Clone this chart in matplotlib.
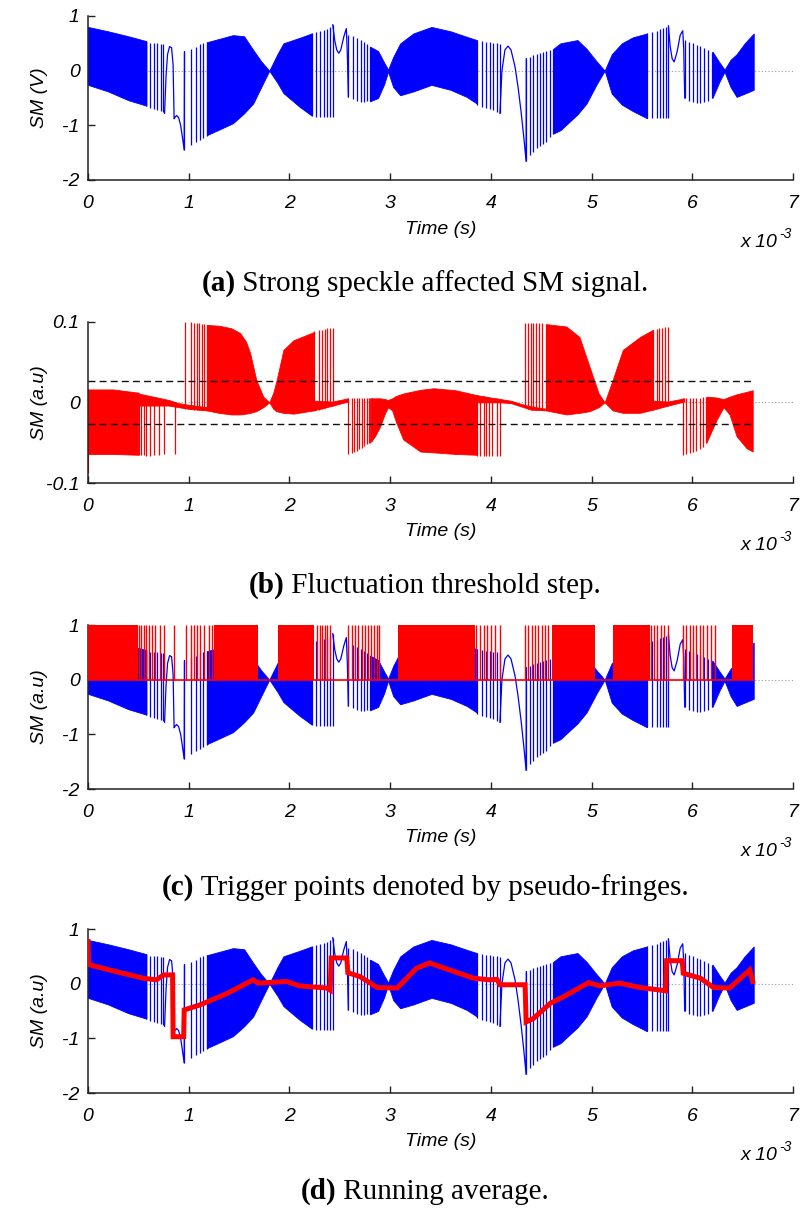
import matplotlib
matplotlib.use('Agg')
import matplotlib.pyplot as plt

plt.rcParams['axes.unicode_minus'] = False
plt.rcParams['font.family'] = ['Liberation Sans', 'DejaVu Sans']

# ================= DATA (time in ms, i.e. x 10^-3 s) =================
time_ticks = [0, 1, 2, 3, 4, 5, 6, 7]
time_ticklabels = ['0', '1', '2', '3', '4', '5', '6', '7']

# ---- SM signal (panels a, c, d): dense-fringe envelopes (None separates segments)
sm_env_t  = [0.0, 0.2, 0.4, 0.58, None,
             1.18, 1.3, 1.44, 1.55, 1.64, 1.72, 1.80, None,
             1.80, 1.88, 1.94, 2.10, 2.22, None,
             2.80, 2.88, 2.94, 2.98, None,
             2.98, 3.03, 3.10, 3.23, 3.41, 3.60, 3.76, 3.86, None,
             4.62, 4.69, 4.86, 4.95, 5.05, 5.13, None,
             5.13, 5.20, 5.30, 5.41, 5.55, None,
             6.20, 6.27, 6.32, None,
             6.32, 6.38, 6.44, 6.52, 6.61]
sm_env_hi = [0.80, 0.72, 0.63, 0.54, None,
             0.52, 0.58, 0.65, 0.63, 0.38, 0.17, 0.0, None,
             0.0, 0.30, 0.50, 0.60, 0.68, None,
             0.44, 0.36, 0.15, 0.02, None,
             0.02, 0.25, 0.50, 0.68, 0.80, 0.72, 0.62, 0.56, None,
             0.40, 0.50, 0.56, 0.40, 0.17, 0.0, None,
             0.0, 0.30, 0.50, 0.61, 0.68, None,
             0.35, 0.15, 0.02, None,
             0.02, 0.20, 0.30, 0.50, 0.68]
sm_env_lo = [-0.26, -0.38, -0.54, -0.64, None,
             -1.18, -1.08, -0.96, -0.78, -0.60, -0.30, 0.0, None,
             0.0, -0.22, -0.41, -0.66, -0.82, None,
             -0.56, -0.50, -0.25, -0.02, None,
             -0.02, -0.30, -0.45, -0.38, -0.26, -0.35, -0.48, -0.60, None,
             -1.15, -1.09, -0.80, -0.60, -0.25, 0.0, None,
             0.0, -0.42, -0.62, -0.74, -0.87, None,
             -0.50, -0.20, -0.02, None,
             -0.02, -0.30, -0.48, -0.42, -0.35]

# isolated fringes (sparse regions)
sm_spike_t  = [0.58, 0.62, 0.66, 0.69, 0.72, 0.74,
               0.958, 1.02, 1.07, 1.11, 1.145, 1.18,
               2.22, 2.26, 2.30, 2.34, 2.37, 2.40, 2.43,
               2.585, 2.63, 2.67, 2.71, 2.74, 2.77, 2.80,
               3.86, 3.91, 3.95, 3.99, 4.02, 4.06, 4.09,
               4.352, 4.39, 4.42, 4.46, 4.49, 4.52, 4.55, 4.59, 4.62,
               5.55, 5.60, 5.65, 5.68, 5.71, 5.74, 5.763,
               5.925, 5.97, 6.01, 6.05, 6.08, 6.12, 6.16, 6.20]
sm_spike_hi = [0.52, 0.51, 0.50, 0.50, 0.49, 0.48,
               0.35, 0.39, 0.44, 0.48, 0.50, 0.52,
               0.68, 0.70, 0.72, 0.74, 0.77, 0.80, 0.84,
               0.65, 0.63, 0.60, 0.56, 0.52, 0.48, 0.44,
               0.56, 0.54, 0.53, 0.52, 0.51, 0.50, 0.48,
               0.22, 0.25, 0.28, 0.30, 0.32, 0.34, 0.36, 0.38, 0.40,
               0.68, 0.70, 0.73, 0.76, 0.78, 0.80, 0.82,
               0.56, 0.53, 0.50, 0.47, 0.45, 0.42, 0.38, 0.35]
sm_spike_lo = [-0.65, -0.68, -0.70, -0.72, -0.74, -0.76,
               -1.45, -1.36, -1.30, -1.27, -1.24, -1.20,
               -0.83, -0.84, -0.85, -0.85, -0.85, -0.85, -0.85,
               -0.48, -0.52, -0.55, -0.58, -0.58, -0.56, -0.55,
               -0.62, -0.66, -0.68, -0.70, -0.72, -0.75, -0.78,
               -1.66, -1.54, -1.48, -1.42, -1.38, -1.34, -1.30, -1.22, -1.15,
               -0.87, -0.87, -0.87, -0.87, -0.87, -0.87, -0.87,
               -0.50, -0.55, -0.58, -0.60, -0.60, -0.58, -0.55, -0.50]

# slow (sub-fringe) excursions
sm_slow_t = [0.76, 0.775, 0.79, 0.81, 0.83, 0.845, 0.855, 0.865, 0.88, 0.90, 0.92, 0.94, 0.955, 0.958, None,
             2.43, 2.45, 2.47, 2.49, 2.51, 2.54, 2.565, 2.575, 2.585, None,
             4.09, 4.11, 4.14, 4.17, 4.20, 4.24, 4.27, 4.30, 4.33, 4.35, 4.352, None,
             5.763, 5.78, 5.80, 5.82, 5.85, 5.88, 5.905, 5.915, 5.925]
sm_slow_v = [-0.78, -0.10, 0.30, 0.44, 0.42, 0.10, -0.88, -0.85, -0.82, -0.86, -1.00, -1.25, -1.45, 0.35, None,
             0.84, 0.55, 0.38, 0.32, 0.38, 0.62, 0.77, 0.30, -0.48, None,
             -0.78, 0.00, 0.38, 0.45, 0.38, 0.07, -0.30, -0.75, -1.27, -1.66, 0.22, None,
             0.82, 0.45, 0.22, 0.16, 0.35, 0.65, 0.73, 0.40, -0.50]

# ---- panel b: fluctuation threshold step signal
fl_env_t  = [0.0, 0.25, 0.5, None,
             0.5, 0.65, 0.80, 0.90, 1.0, 1.18, None,
             1.18, 1.30, 1.42, 1.51, 1.57, 1.61, 1.67, 1.74, 1.80, None,
             1.80, 1.84, 1.87, 1.94, 2.04, 2.24, None,
             2.24, 2.43, 2.58, None,
             2.80, 2.85, 2.90, 2.95, 2.98, 3.02, 3.06, 3.13, 3.30, 3.43, 3.65, 3.86, None,
             3.86, 4.00, 4.10, 4.20, 4.30, 4.40, 4.55, None,
             4.55, 4.75, 4.88, 4.98, 5.07, 5.13, None,
             5.13, 5.21, 5.31, 5.48, 5.61, None,
             5.61, 5.76, 5.92, None,
             6.14, 6.24, 6.31, 6.37, 6.44, 6.54, 6.60]
fl_env_hi = [0.016, 0.016, 0.012, None,
             0.011, 0.007, 0.003, -0.001, -0.003, -0.006, None,
             0.096, 0.095, 0.092, 0.086, 0.075, 0.061, 0.028, 0.007, 0.0, None,
             0.0, 0.012, 0.026, 0.065, 0.077, 0.087, None,
             0.002, 0.001, 0.005, None,
             0.005, 0.005, 0.005, 0.004, 0.003, 0.005, 0.008, 0.011, 0.0155, 0.0175, 0.015, 0.009, None,
             0.009, 0.006, 0.004, 0.002, -0.002, -0.005, -0.008, None,
             0.097, 0.094, 0.081, 0.044, 0.011, 0.0, None,
             0.0, 0.028, 0.065, 0.081, 0.090, None,
             0.002, 0.001, 0.005, None,
             0.007, 0.006, 0.004, 0.007, 0.010, 0.013, 0.015]
fl_env_lo = [-0.064, -0.064, -0.065, None,
             -0.004, -0.004, -0.004, -0.006, -0.008, -0.010, None,
             -0.010, -0.013, -0.015, -0.015, -0.014, -0.013, -0.011, -0.006, 0.0, None,
             0.0, -0.008, -0.011, -0.013, -0.014, -0.010, None,
             -0.010, -0.004, 0.001, None,
             -0.050, -0.042, -0.030, -0.013, -0.006, -0.010, -0.025, -0.046, -0.061, -0.062, -0.064, -0.065, None,
             0.000, 0.000, 0.000, -0.001, -0.005, -0.009, -0.010, None,
             -0.010, -0.015, -0.013, -0.011, -0.006, 0.0, None,
             0.0, -0.010, -0.013, -0.013, -0.009, None,
             -0.009, -0.004, 0.001, None,
             -0.050, -0.022, -0.006, -0.015, -0.042, -0.057, -0.061]
fl_spike_t  = [0.0,
               0.51, 0.53, 0.56, 0.58, 0.62, 0.66, 0.70, 0.75, 0.86,
               0.963, 1.02, 1.05, 1.08, 1.10, 1.13, 1.15, 1.18,
               2.24, 2.29, 2.32, 2.35, 2.37, 2.40, 2.43,
               2.58, 2.62, 2.64, 2.67, 2.69, 2.72, 2.74, 2.77, 2.79, 2.82,
               3.86, 3.89, 3.93, 3.95, 3.98, 4.01, 4.06, 4.09,
               4.34, 4.37, 4.40, 4.42, 4.45, 4.48, 4.51, 4.55,
               5.61, 5.65, 5.67, 5.70, 5.73, 5.76,
               5.91, 5.94, 5.98, 6.01, 6.04, 6.08, 6.11, 6.14]
fl_spike_hi = [0.016,
               0.011, 0.010, 0.009, 0.008, 0.007, 0.006, 0.004, 0.002, 0.0,
               0.100, 0.100, 0.099, 0.098, 0.098, 0.097, 0.097, 0.096,
               0.088, 0.090, 0.090, 0.091, 0.092, 0.092, 0.092,
               0.005, 0.005, 0.005, 0.005, 0.005, 0.005, 0.005, 0.005, 0.005, 0.005,
               0.009, 0.008, 0.008, 0.007, 0.006, 0.006, 0.005, 0.004,
               0.099, 0.099, 0.099, 0.099, 0.099, 0.098, 0.098, 0.097,
               0.090, 0.091, 0.092, 0.092, 0.093, 0.093,
               0.006, 0.006, 0.006, 0.006, 0.006, 0.006, 0.007, 0.007]
fl_spike_lo = [-0.087,
               -0.065, -0.065, -0.065, -0.066, -0.066, -0.065, -0.065, -0.064, -0.064,
               -0.008, -0.008, -0.009, -0.009, -0.009, -0.010, -0.010, -0.010,
               -0.010, -0.009, -0.008, -0.007, -0.006, -0.005, -0.004,
               -0.064, -0.063, -0.062, -0.060, -0.058, -0.056, -0.054, -0.052, -0.050, -0.048,
               -0.066, -0.067, -0.067, -0.067, -0.067, -0.067, -0.067, -0.067,
               -0.005, -0.008, -0.009, -0.009, -0.010, -0.010, -0.010, -0.010,
               -0.009, -0.008, -0.007, -0.006, -0.005, -0.004,
               -0.065, -0.064, -0.063, -0.062, -0.060, -0.058, -0.055, -0.050]
fl_threshold = 0.027
fl_end = 6.6

# ---- panel c: pseudo-fringe trigger points (value 1 at each trigger)
pf_block_start = [0.0, 1.25, 1.89, 3.08, 4.61, 5.21, 6.39]
pf_block_end   = [0.50, 1.69, 2.24, 3.84, 5.03, 5.58, 6.60]
pf_spike_t = [0.51, 0.53, 0.56, 0.58, 0.61, 0.64, 0.67, 0.71, 0.75,
              0.854, 0.97, 1.02, 1.05, 1.08, 1.11, 1.15, 1.20, 1.23,
              2.27, 2.30, 2.32, 2.35, 2.37, 2.40,
              2.58, 2.62, 2.65, 2.68, 2.72, 2.75, 2.78, 2.81, 2.84, 2.87, 2.89,
              3.85, 3.89, 3.93, 3.96, 4.00, 4.04, 4.09,
              4.34, 4.37, 4.41, 4.44, 4.47, 4.51, 4.54, 4.57,
              5.59, 5.62, 5.65, 5.69, 5.72, 5.76,
              5.91, 5.94, 5.98, 6.01, 6.04, 6.08, 6.11, 6.15, 6.19, 6.23]
pf_level = 1.0

# ---- panel d: running average
avg_t = [0.0, 0.005, 0.28, 0.55, 0.68, 0.75, 0.84, 0.845, 0.95, 0.955, 1.11, 1.38, 1.64, 1.69,
         1.97, 2.10, 2.37, 2.405, 2.415, 2.57, 2.58, 2.70, 2.87, 3.07, 3.26, 3.39, 3.59, 3.83,
         3.99, 4.06, 4.09, 4.34, 4.35, 4.42, 4.59, 4.75, 4.97, 5.08, 5.28, 5.48, 5.735, 5.745,
         5.90, 5.91, 6.08, 6.21, 6.37, 6.57, 6.60]
avg_v = [0.77, 0.35, 0.22, 0.10, 0.07, 0.16, 0.16, -0.97, -0.97, -0.48, -0.39, -0.18, 0.07, 0.01,
         0.04, -0.04, -0.08, -0.12, 0.47, 0.47, 0.20, 0.13, -0.07, -0.08, 0.28, 0.38, 0.25, 0.10,
         0.07, 0.08, -0.02, -0.02, -0.70, -0.64, -0.36, -0.21, 0.02, -0.04, 0.01, -0.07, -0.13, 0.42,
         0.42, 0.19, 0.10, -0.07, -0.08, 0.25, 0.04]

# ================= FIGURE =================
W, H = 802, 1212
fig = plt.figure(figsize=(W / 100, H / 100), dpi=100)
BLUE = '#0000ff'
RED = '#ff0000'
TICK_FS = 14
SUP_FS = 10
CAP_FS = 21


def segments(ts, *vals):
    out, cur = [], [[] for _ in range(1 + len(vals))]
    for i, t in enumerate(ts):
        if t is None:
            out.append(cur)
            cur = [[] for _ in range(1 + len(vals))]
            continue
        cur[0].append(t)
        for k, v in enumerate(vals):
            cur[k + 1].append(v[i])
    out.append(cur)
    return out


def draw_signal(ax, env_t, env_hi, env_lo, sp_t, sp_hi, sp_lo, color, slow_t=None, slow_v=None):
    for t, hi, lo in segments(env_t, env_hi, env_lo):
        ax.fill_between(t, lo, hi, color=color, lw=0.6, zorder=2)
    ax.vlines(sp_t, sp_lo, sp_hi, color=color, lw=0.9, zorder=2)
    if slow_t is not None:
        for t, v in segments(slow_t, slow_v):
            ax.plot(t, v, color=color, lw=0.9, zorder=2)


def make_axes(top, bottom, left=88, right=793):
    ax = fig.add_axes([left / W, 1 - bottom / H, (right - left) / W, (bottom - top) / H])
    return ax


def style(ax, ylim, yticks, yticklabels, ylabel, top, bottom):
    ax.set_xlim(0, 7)
    ax.set_ylim(*ylim)
    ax.axhline(0, color='#9a9a9a', lw=0.8, ls=(0, (1, 2)), zorder=1)
    for s in ['top', 'right']:
        ax.spines[s].set_visible(False)
    for s in ['left', 'bottom']:
        ax.spines[s].set_color('#222222')
        ax.spines[s].set_linewidth(1.1)
    ax.set_xticks(time_ticks)
    ax.set_xticklabels(time_ticklabels, fontsize=TICK_FS, fontstyle='italic')
    ax.set_yticks(yticks)
    ax.set_yticklabels(yticklabels, fontsize=TICK_FS, fontstyle='italic')
    ax.tick_params(axis='both', direction='in', length=5, width=1, color='#222222')
    ax.tick_params(axis='x', pad=10.5)
    ax.tick_params(axis='y', pad=6)
    mid = (top + bottom) / 2
    fig.text(40 / W, 1 - mid / H, ylabel, rotation=90, ha='center', va='center',
             fontsize=TICK_FS, fontstyle='italic')
    fig.text(441 / W, 1 - (bottom + 49) / H, 'Time (s)', ha='center', va='center',
             fontsize=TICK_FS, fontstyle='italic')
    fig.text(778 / W, 1 - (bottom + 67) / H, 'x 10', ha='right', va='baseline',
             fontsize=TICK_FS, fontstyle='italic')
    fig.text(779 / W, 1 - (bottom + 58) / H, '-3', ha='left', va='baseline',
             fontsize=SUP_FS, fontstyle='italic')


captions = []


def caption(bold, rest, baseline):
    t1 = fig.text(0, 1 - baseline / H, bold, fontfamily='Liberation Serif', fontweight='bold',
                  fontsize=CAP_FS, va='baseline')
    t2 = fig.text(0, 1 - baseline / H, ' ' + rest, fontfamily='Liberation Serif',
                  fontsize=CAP_FS, va='baseline')
    captions.append((t1, t2))


# ---- (a)
axa = make_axes(16, 180)
draw_signal(axa, sm_env_t, sm_env_hi, sm_env_lo, sm_spike_t, sm_spike_hi, sm_spike_lo, BLUE,
            sm_slow_t, sm_slow_v)
style(axa, (-2, 1), [-2, -1, 0, 1], ['-2', '-1', '0', '1'], 'SM (V)', 16, 180)
caption('(a)', 'Strong speckle affected SM signal.', 291)

# ---- (b)
axb = make_axes(321.7, 483)
draw_signal(axb, fl_env_t, fl_env_hi, fl_env_lo, fl_spike_t, fl_spike_hi, fl_spike_lo, RED)
axb.plot([0, fl_end], [fl_threshold, fl_threshold], color='#111111', lw=1.0, ls=(0, (5, 3)), zorder=3)
axb.plot([0, fl_end], [-fl_threshold, -fl_threshold], color='#111111', lw=1.0, ls=(0, (5, 3)), zorder=3)
style(axb, (-0.1, 0.1), [-0.1, 0, 0.1], ['-0.1', '0', '0.1'], 'SM (a.u)', 321.7, 483)
caption('(b)', 'Fluctuation threshold step.', 593)

# ---- (c)
axc = make_axes(625, 789)
draw_signal(axc, sm_env_t, sm_env_hi, sm_env_lo, sm_spike_t, sm_spike_hi, sm_spike_lo, BLUE,
            sm_slow_t, sm_slow_v)
for s, e in zip(pf_block_start, pf_block_end):
    axc.fill_between([s, e], [0, 0], [pf_level, pf_level], color=RED, lw=0, zorder=3)
axc.vlines(pf_spike_t, 0, pf_level, color=RED, lw=1.0, zorder=3)
axc.plot([0, fl_end], [0, 0], color=RED, lw=1.2, zorder=3)
style(axc, (-2, 1), [-2, -1, 0, 1], ['-2', '-1', '0', '1'], 'SM (a.u)', 625, 789)
caption('(c)', 'Trigger points denoted by pseudo-fringes.', 895)

# ---- (d)
axd = make_axes(929, 1093)
draw_signal(axd, sm_env_t, sm_env_hi, sm_env_lo, sm_spike_t, sm_spike_hi, sm_spike_lo, BLUE,
            sm_slow_t, sm_slow_v)
axd.plot(avg_t, avg_v, color=RED, lw=3.6, zorder=3, solid_joinstyle='miter')
style(axd, (-2, 1), [-2, -1, 0, 1], ['-2', '-1', '0', '1'], 'SM (a.u)', 929, 1093)
caption('(d)', 'Running average.', 1199)

# centre captions
fig.canvas.draw()
r = fig.canvas.get_renderer()
for t1, t2 in captions:
    w1 = t1.get_window_extent(r).width
    w2 = t2.get_window_extent(r).width
    x0 = 425 - (w1 + w2) / 2
    y = t1.get_position()[1]
    t1.set_position((x0 / W, y))
    t2.set_position(((x0 + w1) / W, y))

fig.savefig('out.png', dpi=100)
